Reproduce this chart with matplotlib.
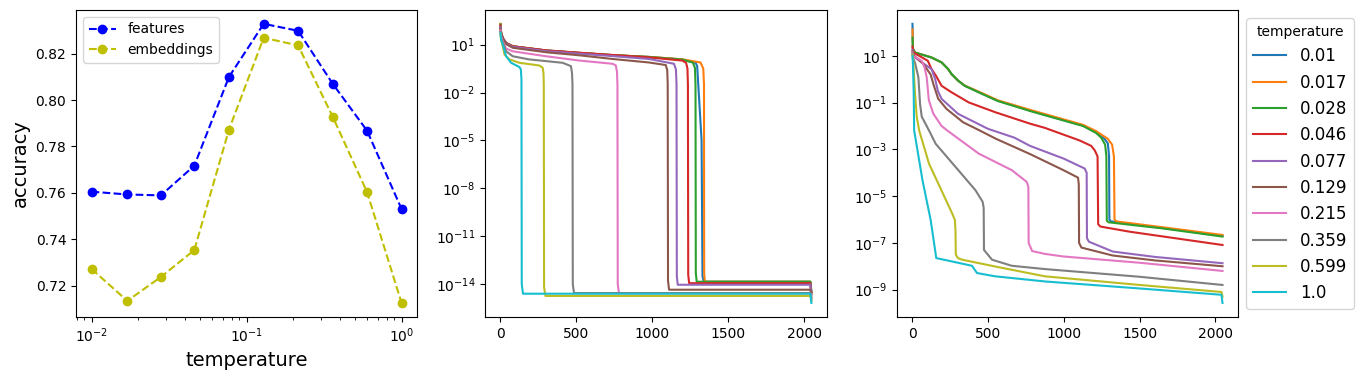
import numpy as np
import matplotlib
matplotlib.use("Agg")
import matplotlib.pyplot as plt

# temperatures (legend labels) and accuracy of the left panel
temps = [0.01, 0.017, 0.028, 0.046, 0.077, 0.129, 0.215, 0.359, 0.599, 1.0]
acc_features = [0.7605, 0.7593, 0.7589, 0.7717, 0.810, 0.8329, 0.8299, 0.8071, 0.7868, 0.7530]
acc_embeddings = [0.7272, 0.7134, 0.7237, 0.7353, 0.7873, 0.8269, 0.8236, 0.7929, 0.7603, 0.7125]

# middle panel: (step, log10 loss) points
mid_001 = [(0, 2.29), (4, 1.75), (15, 1.41), (37, 1.1), (81, 0.89), (300, 0.63), (519, 0.48), (737, 0.34),
           (978, 0.23), (1197, 0.07), (1285, -0.15), (1295, -0.35), (1324, -5.0), (1330, -13.5), (1338, -13.85),
           (2040, -13.85), (2047, -14.5)]
mid_017 = [(0, 2.3), (4, 1.75), (15, 1.41), (37, 1.1), (81, 0.89), (300, 0.63), (519, 0.48), (737, 0.34),
           (978, 0.23), (1197, 0.08), (1317, -0.12), (1335, -0.5), (1340, -1.5), (1341, -13.3), (1345, -13.8),
           (1352, -13.85), (2040, -13.85), (2047, -14.5)]
mid_028 = [(0, 2.25), (4, 1.75), (15, 1.41), (37, 1.1), (81, 0.89), (300, 0.63), (519, 0.48), (737, 0.34),
           (978, 0.22), (1197, 0.06), (1266, -0.12), (1280, -0.45), (1284, -1.5), (1286, -13.3), (1292, -13.85),
           (2040, -13.85), (2047, -14.5)]
mid_046 = [(0, 2.2), (4, 1.75), (15, 1.41), (37, 1.1), (81, 0.9), (300, 0.64), (519, 0.49), (737, 0.35),
           (978, 0.2), (1197, 0.0), (1222, -0.14), (1231, -0.5), (1234, -1.5), (1236, -13.4), (1242, -13.94),
           (2040, -13.94), (2047, -14.6)]
mid_077 = [(0, 2.1), (4, 1.7), (15, 1.38), (37, 1.07), (81, 0.86), (300, 0.59), (519, 0.43), (737, 0.28),
           (978, 0.1), (1142, -0.2), (1155, -0.55), (1159, -1.5), (1161, -13.5), (1167, -14.04),
           (2040, -14.04), (2047, -14.65)]
mid_129 = [(0, 2.0), (4, 1.65), (15, 1.35), (37, 1.03), (81, 0.8), (300, 0.52), (519, 0.33), (737, 0.1),
           (978, -0.12), (1088, -0.28), (1098, -0.6), (1101, -1.5), (1103, -13.8), (1110, -14.35),
           (2040, -14.35), (2047, -14.8)]
mid_215 = [(0, 1.9), (4, 1.5), (15, 1.2), (37, 0.75), (81, 0.58), (300, 0.27), (519, 0.0), (737, -0.2),
           (759, -0.3), (767, -0.7), (770, -1.5), (772, -14.0), (780, -14.56), (2040, -14.56), (2047, -14.9)]
mid_359 = [(0, 1.8), (4, 1.4), (15, 1.1), (37, 0.58), (81, 0.27), (190, 0.07), (409, -0.14), (464, -0.35),
           (471, -0.8), (474, -1.5), (476, -14.0), (484, -14.56), (2040, -14.56), (2047, -14.95)]
mid_599 = [(0, 1.7), (4, 1.3), (15, 0.9), (26, 0.38), (59, 0.07), (125, -0.14), (256, -0.31), (278, -0.45),
           (283, -0.8), (285, -1.5), (287, -14.2), (296, -14.74), (2040, -14.74), (2047, -15.05)]
mid_100 = [(0, 1.72), (4, 1.3), (15, 1.0), (37, 0.27), (70, -0.14), (125, -0.41), (134, -0.55), (138, -1.2),
           (140, -14.0), (148, -14.6), (2040, -14.6), (2047, -15.18)]

# right panel: (step, log10 loss) points
right_001 = [(0, 2.37), (3, 1.3), (17, 1.14), (126, 0.93), (192, 0.72), (236, 0.43), (258, 0.22), (301, -0.06),
             (345, -0.28), (454, -0.6), (563, -0.92), (782, -1.35), (907, -1.58), (1126, -1.98), (1213, -2.28),
             (1268, -2.55), (1290, -2.75), (1298, -3.3), (1300, -6.0), (1310, -6.08), (1650, -6.36), (2047, -6.7)]
right_017 = [(0, 2.13), (3, 1.3), (17, 1.14), (126, 0.93), (192, 0.72), (236, 0.43), (258, 0.22), (301, -0.06),
             (345, -0.27), (454, -0.58), (563, -0.9), (782, -1.32), (907, -1.55), (1126, -1.95), (1213, -2.22),
             (1290, -2.55), (1318, -2.8), (1330, -3.3), (1334, -6.0), (1345, -6.08), (1650, -6.33), (2047, -6.66)]
right_028 = [(0, 1.78), (3, 1.3), (17, 1.14), (126, 0.93), (192, 0.72), (236, 0.43), (258, 0.22), (301, -0.06),
             (345, -0.28), (454, -0.61), (563, -0.93), (782, -1.37), (907, -1.6), (1126, -2.0), (1213, -2.3),
             (1246, -2.5), (1272, -2.8), (1280, -3.3), (1283, -6.05), (1295, -6.12), (1650, -6.38), (2047, -6.73)]
right_046 = [(0, 1.4), (4, 1.2), (17, 1.1), (101, 0.79), (126, 0.43), (155, 0.15), (192, -0.28), (258, -0.56),
             (371, -0.99), (546, -1.41), (776, -1.9), (874, -2.08), (1104, -2.62), (1180, -2.85), (1203, -3.04),
             (1222, -3.3), (1226, -6.2), (1240, -6.3), (1432, -6.52), (2047, -7.09)]
right_077 = [(0, 1.25), (4, 1.1), (10, 0.96), (126, 0.43), (150, 0.0), (167, -0.49), (192, -0.84), (301, -1.48),
             (498, -2.12), (673, -2.5), (776, -2.85), (1000, -3.4), (1137, -3.82), (1150, -4.0), (1152, -6.8),
             (1165, -6.95), (1322, -7.37), (1600, -7.6), (2047, -7.87)]
right_129 = [(0, 1.2), (4, 1.05), (72, 0.65), (120, 0.2), (138, -0.21), (170, -0.84), (225, -1.27), (334, -1.84),
             (443, -2.19), (552, -2.55), (776, -3.2), (1000, -3.9), (1093, -4.21), (1098, -4.5), (1100, -7.0),
             (1115, -7.2), (1322, -7.54), (1600, -7.75), (2047, -8.0)]
right_215 = [(0, 1.15), (4, 1.0), (61, 0.79), (80, 0.5), (94, 0.08), (108, -0.9), (138, -1.48), (192, -2.0),
             (229, -2.19), (437, -3.18), (656, -3.89), (754, -4.39), (765, -4.6), (767, -7.0), (790, -7.35),
             (874, -7.47), (994, -7.58), (1500, -7.85), (2047, -8.2)]
right_359 = [(0, 1.1), (4, 0.9), (17, 0.7), (39, 0.08), (50, -1.06), (61, -1.6), (109, -2.19), (153, -2.76),
             (284, -3.75), (415, -4.74), (463, -5.24), (470, -5.5), (472, -7.3), (525, -7.72), (656, -7.98),
             (874, -8.12), (1500, -8.45), (2047, -8.8)]
right_599 = [(0, 1.05), (6, 0.65), (17, -0.63), (28, -1.6), (44, -2.19), (109, -3.61), (262, -5.74), (280, -6.02),
             (284, -6.5), (286, -7.5), (300, -7.65), (328, -7.72), (546, -8.01), (874, -8.43), (1500, -8.8),
             (2040, -9.1), (2047, -9.3)]
right_100 = [(0, 1.0), (3, 0.65), (8, -0.6), (11, -2.19), (66, -4.32), (120, -6.02), (157, -7.65), (393, -7.98),
             (426, -8.29), (546, -8.43), (874, -8.65), (1500, -8.95), (2040, -9.22), (2047, -9.57)]

mid_curves = [mid_001, mid_017, mid_028, mid_046, mid_077, mid_129, mid_215, mid_359, mid_599, mid_100]
right_curves = [right_001, right_017, right_028, right_046, right_077, right_129, right_215, right_359,
                right_599, right_100]

fig = plt.figure(figsize=(13.63, 3.8), dpi=100)
ax1 = fig.add_axes([0.0558, 0.166, 0.2502, 0.808])
ax2 = fig.add_axes([0.3558, 0.166, 0.2509, 0.808])
ax3 = fig.add_axes([0.6581, 0.166, 0.2502, 0.808])

# left: accuracy vs temperature
ax1.plot(temps, acc_features, "bo--", label="features")
ax1.plot(temps, acc_embeddings, "yo--", label="embeddings")
ax1.set_xscale("log")
ax1.set_xlabel("temperature", fontsize=14)
ax1.set_ylabel("accuracy", fontsize=14)
ax1.legend(loc="upper left")

# middle / right: loss curves
for ax, curves in [(ax2, mid_curves), (ax3, right_curves)]:
    for t, pts in zip(temps, curves):
        steps, logloss = zip(*pts)
        ax.plot(steps, 10.0 ** np.array(logloss), label=str(t))
    ax.set_yscale("log")

ax3.legend(title="temperature", fontsize=12, loc="upper left", bbox_to_anchor=(1.0, 1.0))

plt.savefig("out.png", dpi=100)
plt.close()
